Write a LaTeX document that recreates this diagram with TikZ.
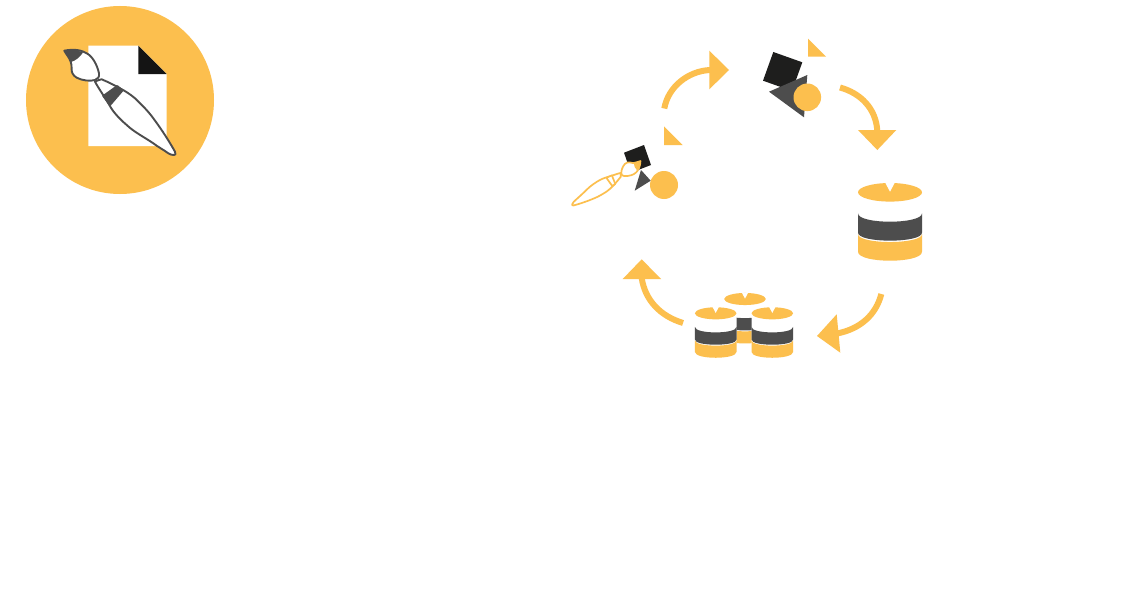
\documentclass[tikz,border=0pt]{standalone}
\usepackage{xcolor}
\definecolor{iconyellow}{HTML}{FCBF4E}
\definecolor{icondark}{HTML}{4D4D4D}
\definecolor{iconblack}{HTML}{1E1E1D}
\tikzset{cyclearc/.style={draw=iconyellow,line width=6pt},
         tipfill/.style={fill=iconyellow},
         brushline/.style={line width=#1,line join=round}}
\newcommand{\brushicon}[3]{%
\filldraw[brushline=#3,draw=#1,fill=white] (64.3,50.7) .. controls (75,48.5) and (82,50.5) .. (86.7,53.3)
  .. controls (92,56) and (97,64) .. (99,73.3) .. controls (99.5,77) and (98,79) .. (95,80)
  .. controls (90,81.5) and (82,80.5) .. (76.7,77.7) .. controls (73,75.5) and (71.5,72) .. (71.7,70)
  .. controls (71.5,66) and (71.5,63) .. (70.7,61.7) .. controls (69,57) and (66,54) .. (64.3,50.7) -- cycle;
\fill[#1] (64.3,50.7) .. controls (70,49) and (77,49.5) .. (83,52.5) .. controls (80,57) and (76,60.5) .. (71,62)
  .. controls (69,57) and (66,54) .. (64.3,50.7) -- cycle;
\filldraw[brushline=#3,draw=#1,fill=white] (95,81.7) .. controls (97,80.5) and (100,79.5) .. (101.7,79.3)
  .. controls (108,82) and (114,85) .. (120,88.3) .. controls (125,91) and (130,94) .. (135,98.3)
  .. controls (142,105) and (148,111) .. (153.3,118.3) .. controls (162,130) and (169,141) .. (175,151.7)
  .. controls (176,154) and (175.5,155) .. (174,155) .. controls (172,155) and (170,154.5) .. (168.3,153.3)
  .. controls (164,150) and (158,147) .. (153.3,143.3) .. controls (144,137) and (134,132) .. (126.7,125)
  .. controls (122,121) and (118,117) .. (115,113.3) .. controls (112,110) and (110,106) .. (108.3,103.3)
  .. controls (104,96) and (99,89) .. (95,81.7) -- cycle;
\filldraw[brushline=#3,draw=#1,fill=#2] (103.3,96) -- (117.3,86) -- (122.3,90.7) -- (110,105) -- cycle;}
\newcommand{\dbicon}[2]{%
\begin{scope}[shift={(#1)},scale=#2]
\fill[white] (-32,0) -- (-32,59.4) .. controls (-32,71.4) and (32,71.4) .. (32,59.4) -- (32,0) -- cycle;
\fill[icondark] (-32,21) .. controls (-32,32.2) and (32,32.2) .. (32,21) -- (32,40.4)
  .. controls (32,51) and (-32,51) .. (-32,40.4) -- cycle;
\fill[iconyellow] (-32,41.7) .. controls (-32,52.4) and (32,52.4) .. (32,41.7) -- (32,59.4)
  .. controls (32,71.4) and (-32,71.4) .. (-32,59.4) -- cycle;
\fill[iconyellow] (0,0) ellipse[x radius=32,y radius=9.3];
\fill[white] (-5,-10) -- (0,-0.6) -- (5,-10) -- cycle;
\end{scope}}
\begin{document}
\begin{tikzpicture}[x=1pt,y=-1pt]
\useasboundingbox (0,0) rectangle (1132,602);
\fill[white] (0,0) rectangle (1132,602);
\fill[iconyellow] (120,100) circle[radius=94];
\fill[white] (88.3,45.7) -- (138.3,45.7) -- (166.7,74) -- (166.7,146) -- (88.3,146) -- cycle;
\fill[black!92] (138.3,45.7) -- (166.7,74) -- (138.3,74) -- cycle;
\brushicon{icondark}{icondark}{1.9pt}
\fill[iconblack] (624,152.7) -- (644,145) -- (651,165) -- (631,172.7) -- cycle;
\fill[icondark] (641,170) -- (650.7,180.7) -- (634.7,190.7) -- cycle;
\fill[iconyellow] (664,185) circle[radius=14];
\begin{scope}[shift={(572,205)},rotate=-104,scale=.535,shift={(-175,-155)}]
\brushicon{iconyellow}{white}{1.7pt}
\end{scope}
\fill[iconyellow] (664,126.3) -- (664,145) -- (682.7,145) -- cycle;
\fill[iconblack] (773.3,52) -- (802.3,62.3) -- (792,91) -- (763,80.7) -- cycle;
\fill[icondark] (807.3,75) -- (769,91.7) -- (804,117.3) -- cycle;
\fill[iconyellow] (807.3,97.3) circle[radius=13.8];
\fill[iconyellow] (808,38.7) -- (808,56.7) -- (826,56.7) -- cycle;
\draw[cyclearc] (664.3,108.5) .. controls (668,87) and (688,71) .. (710,70);
\fill[tipfill] (709.3,50.7) -- (709.3,89.3) -- (729,70) -- cycle;
\draw[cyclearc] (840,87.5) .. controls (860,93) and (876,108) .. (877.3,131);
\fill[tipfill] (858,130) -- (896.3,130) -- (877.3,150) -- cycle;
\draw[cyclearc] (881.3,294) .. controls (876,315) and (860,329) .. (837,333.5);
\fill[tipfill] (836.7,314.3) -- (840.3,352.7) -- (817,336) -- cycle;
\draw[cyclearc] (683,323) .. controls (660,316) and (645,300) .. (641.7,278);
\fill[tipfill] (622.7,279) -- (661,279) -- (641.7,259.3) -- cycle;
\dbicon{890,192.3}{1}
\dbicon{745,299}{.65}
\dbicon{715.7,313.3}{.65}
\dbicon{772.3,313.3}{.65}
\end{tikzpicture}
\end{document}
